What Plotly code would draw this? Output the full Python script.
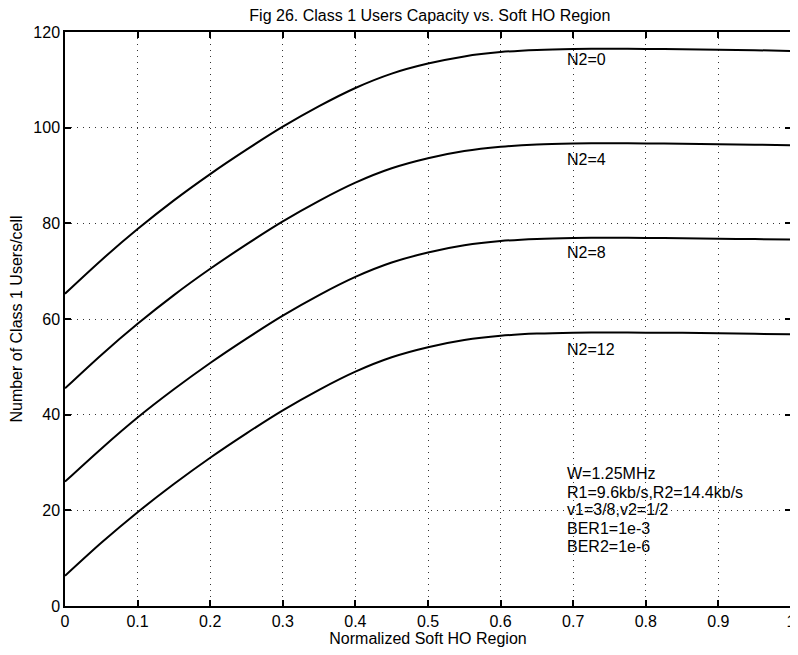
import plotly.graph_objects as go

x_vals = [0.0, 0.05, 0.1, 0.15, 0.2, 0.25, 0.3, 0.35, 0.4, 0.45, 0.5,
          0.55, 0.6, 0.65, 0.7, 0.75, 0.8, 0.85, 0.9, 0.95, 1.0]

n2_0 = [65.3, 72.3, 78.8, 84.8, 90.3, 95.4, 100.2, 104.5, 108.3, 111.3, 113.4,
        114.9, 115.8, 116.25, 116.45, 116.5, 116.45, 116.4, 116.3, 116.2, 116.0]
n2_4 = [45.5, 52.5, 59.0, 65.0, 70.5, 75.6, 80.4, 84.7, 88.5, 91.5, 93.6,
        95.1, 96.0, 96.5, 96.7, 96.75, 96.7, 96.65, 96.55, 96.45, 96.3]
n2_8 = [26.0, 32.9, 39.4, 45.3, 50.8, 55.9, 60.7, 65.0, 68.8, 71.8, 73.9,
        75.4, 76.3, 76.75, 76.95, 77.0, 76.95, 76.9, 76.8, 76.7, 76.6]
n2_12 = [6.3, 13.2, 19.6, 25.5, 31.0, 36.1, 40.9, 45.2, 49.0, 52.0, 54.1,
         55.6, 56.5, 56.95, 57.15, 57.2, 57.15, 57.1, 57.0, 56.9, 56.8]

series_names = ["N2=0", "N2=4", "N2=8", "N2=12"]
series_vals = [n2_0, n2_4, n2_8, n2_12]
label_y = [114.3, 93.4, 73.8, 53.7]

x_ticks = [0, 0.1, 0.2, 0.3, 0.4, 0.5, 0.6, 0.7, 0.8, 0.9, 1]
x_tick_text = ["0", "0.1", "0.2", "0.3", "0.4", "0.5", "0.6", "0.7", "0.8", "0.9", "1"]
y_ticks = [0, 20, 40, 60, 80, 100, 120]

info_lines = ["W=1.25MHz", "R1=9.6kb/s,R2=14.4kb/s", "v1=3/8,v2=1/2",
              "BER1=1e-3", "BER2=1e-6"]
info_y = [27.6, 23.8, 20.1, 16.3, 12.5]

FONT = "Liberation Sans, Arial, Helvetica, sans-serif"
FS = 16

fig = go.Figure()
for name, vals in zip(series_names, series_vals):
    fig.add_trace(go.Scatter(x=x_vals, y=vals, mode="lines", name=name,
                             line=dict(color="black", width=2, shape="spline", smoothing=0.8),
                             showlegend=False, cliponaxis=False))

for name, ly in zip(series_names, label_y):
    fig.add_annotation(x=0.689, y=ly, text=name, showarrow=False,
                       xanchor="left", yanchor="middle",
                       font=dict(size=FS, color="black", family=FONT))

for txt, iy in zip(info_lines, info_y):
    fig.add_annotation(x=0.689, y=iy, text=txt, showarrow=False,
                       xanchor="left", yanchor="middle",
                       font=dict(size=FS, color="black", family=FONT))

axis_common = dict(showline=True, linecolor="black", linewidth=1.5, mirror="ticks",
                   ticks="inside", ticklen=6, tickcolor="black", tickwidth=1.5,
                   showgrid=True, gridcolor="#333333", griddash="1px,5px", gridwidth=1,
                   zeroline=False, automargin=False,
                   tickfont=dict(size=FS, color="black", family=FONT))

fig.update_xaxes(range=[-1e-6, 1 + 1e-6], tickvals=x_ticks, ticktext=x_tick_text,
                 title=dict(text="Normalized Soft HO Region", standoff=1,
                            font=dict(size=FS, color="black", family=FONT)),
                 **axis_common)
fig.update_yaxes(range=[0, 120], tickvals=y_ticks,
                 title=dict(text="Number of Class 1 Users/cell", standoff=10,
                            font=dict(size=FS, color="black", family=FONT)),
                 **axis_common)

fig.update_layout(
    width=790, height=647,
    margin=dict(l=57, r=7, t=24, b=49),
    paper_bgcolor="white", plot_bgcolor="white",
    title=dict(text="Fig 26. Class 1 Users Capacity vs. Soft HO Region",
               x=0.534, xanchor="center", y=0.988, yanchor="middle",
               font=dict(size=FS, color="black", family=FONT)),
    font=dict(family=FONT, color="black"),
)

fig.write_html("out.html")
